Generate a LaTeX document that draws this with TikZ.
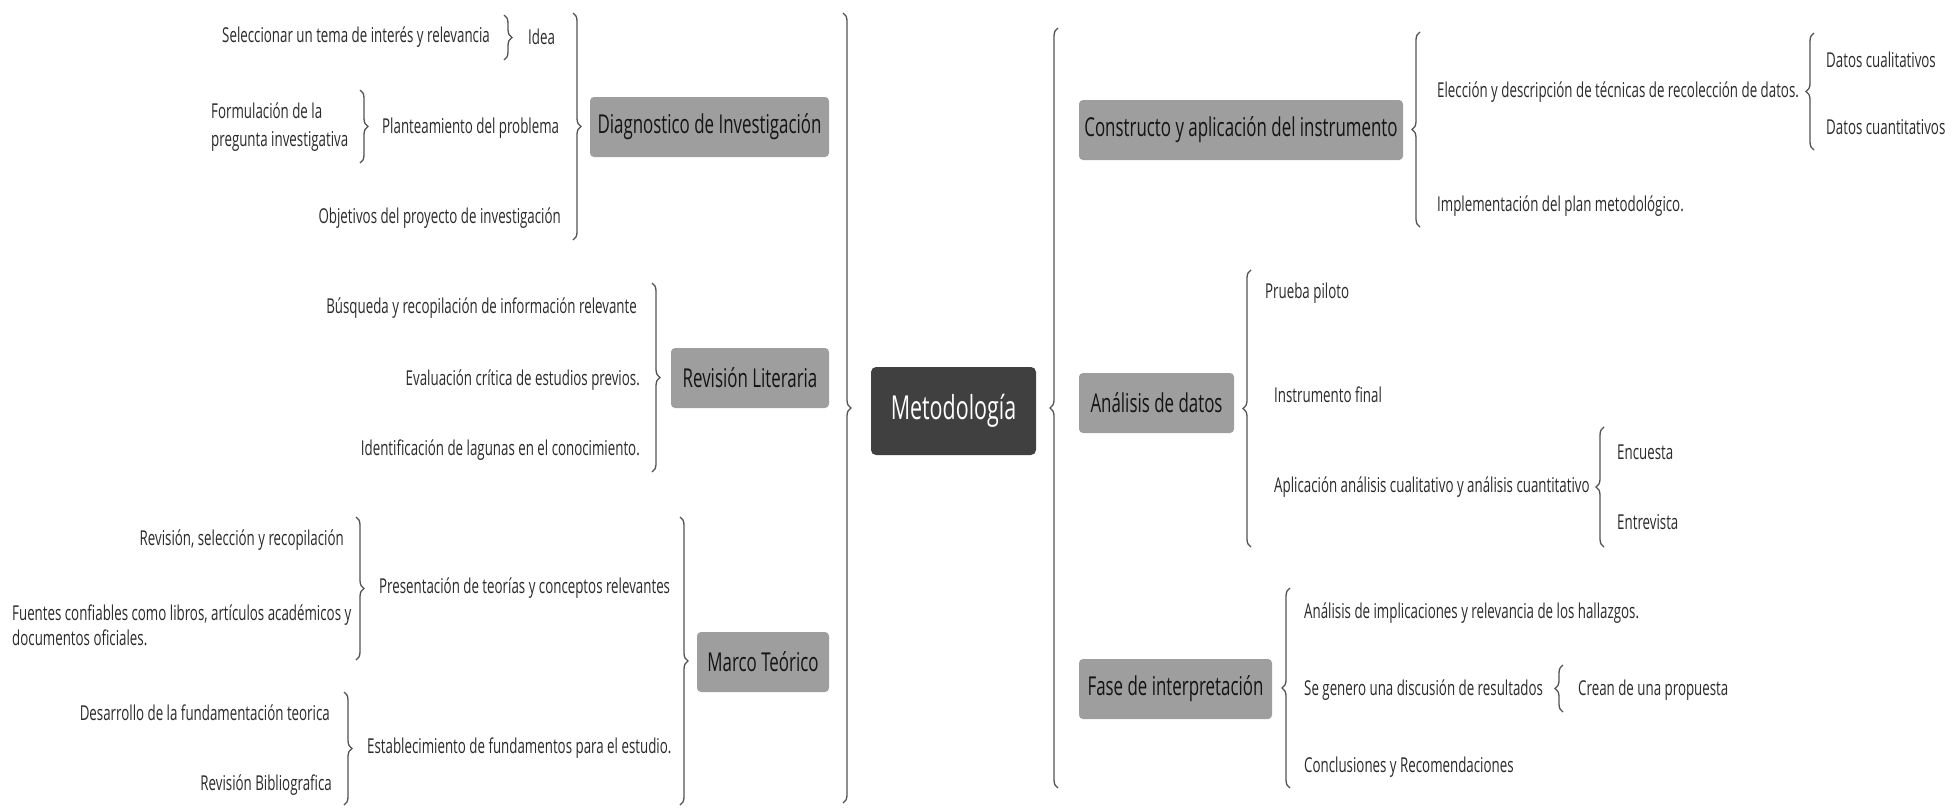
\documentclass[tikz,border=0pt]{standalone}
\usepackage{fontspec}
\setmainfont{Open Sans}[FakeStretch=0.65]
\usetikzlibrary{decorations.pathreplacing}
\definecolor{boxgray}{RGB}{158,158,158}
\definecolor{rootgray}{RGB}{64,64,64}
\definecolor{inkgray}{RGB}{42,42,42}
\tikzset{
	leaf/.style={inner sep=0pt, text=inkgray, font=\fontsize{20.5}{28}\selectfont},
	branch/.style={fill=boxgray, rounded corners=4pt, inner sep=0pt, text=black!92, minimum height=60pt, font=\fontsize{26}{28}\selectfont},
	rootbox/.style={fill=rootgray, rounded corners=5pt, inner sep=0pt, text=white, minimum height=88pt, minimum width=165pt, font=\fontsize{33}{36}\selectfont},
	brace/.style={decorate, decoration={brace, amplitude=8pt}, draw=black!68, line width=1.3pt}
}

\begin{document}
\begin{tikzpicture}[x=1pt,y=-1pt]
			%%%%% START %%%%%
			\useasboundingbox (0,0) rectangle (1952,807);
			
			\node[rootbox] (metodo) at (953.5,411) {Metodología};
			
			% left side
			\node[branch, minimum width=239pt] (diag) at (709.5,127) {Diagnostico de Investigación};
			\node[branch, minimum width=158pt] (revlit) at (750,378) {Revisión Literaria};
			\node[branch, minimum width=132pt] (marco) at (763,662) {Marco Teórico};
			
			\node[leaf, anchor=east] (selec) at (490,37) {Seleccionar un tema de interés y relevancia};
			\node[leaf, anchor=west] (idea) at (528,37) {Idea};
			\node[leaf, anchor=west, align=left] (formul) at (211,127) {Formulación de la\\pregunta investigativa};
			\node[leaf, anchor=west] (plantea) at (382,128) {Planteamiento del problema};
			\node[leaf, anchor=east] (objet) at (561,218) {Objetivos del proyecto de investigación};
			
			\node[leaf, anchor=east] (busq) at (637,308) {Búsqueda y recopilación de información relevante};
			\node[leaf, anchor=east] (evalua) at (640,380) {Evaluación crítica de estudios previos.};
			\node[leaf, anchor=east] (identif) at (640,450) {Identificación de lagunas en el conocimiento.};
			
			\node[leaf, anchor=east] (revsel) at (344,540) {Revisión, selección y recopilación};
			\node[leaf, anchor=west, align=left, font=\fontsize{20.5}{25}\selectfont] (fuentes) at (12,625) {Fuentes confiables como libros, artículos académicos y\\ documentos oficiales.};
			\node[leaf, anchor=west] (present) at (379,588) {Presentación de teorías y conceptos relevantes};
			\node[leaf, anchor=east] (desarr) at (330,713) {Desarrollo de la fundamentación teorica};
			\node[leaf, anchor=east] (revbib) at (332,785) {Revisión Bibliografica};
			\node[leaf, anchor=west] (establ) at (367,748) {Establecimiento de fundamentos para el estudio.};
			
			% right side
			\node[branch, minimum width=324pt] (constr) at (1241,130) {Constructo y aplicación del instrumento};
			\node[branch, minimum width=155pt] (analis) at (1156.5,403) {Análisis de datos};
			\node[branch, minimum width=193pt] (fase) at (1175.5,689) {Fase de interpretación};
			
			\node[leaf, anchor=west] (elecc) at (1437,92) {Elección y descripción de técnicas de recolección de datos.};
			\node[leaf, anchor=west] (cuali) at (1826,60) {Datos cualitativos};
			\node[leaf, anchor=west] (cuanti) at (1826,127) {Datos cuantitativos};
			\node[leaf, anchor=west] (implem) at (1437,206) {Implementación del plan metodológico.};
			
			\node[leaf, anchor=west] (piloto) at (1265,293) {Prueba piloto};
			\node[leaf, anchor=west] (final) at (1274,395) {Instrumento final};
			\node[leaf, anchor=west] (aplic) at (1274,487) {Aplicación análisis cualitativo y análisis cuantitativo};
			\node[leaf, anchor=west] (encuesta) at (1617,452) {Encuesta};
			\node[leaf, anchor=west] (entrev) at (1617,522) {Entrevista};
			
			\node[leaf, anchor=west] (implic) at (1304,613) {Análisis de implicaciones y relevancia de los hallazgos.};
			\node[leaf, anchor=west] (discus) at (1304,690) {Se genero una discusión de resultados};
			\node[leaf, anchor=west] (propue) at (1578,690) {Crean de una propuesta};
			\node[leaf, anchor=west] (conclu) at (1304,767) {Conclusiones y Recomendaciones};
			
			% braces opening to the right
			\draw[brace] (504,15) -- (504,60);
			\draw[brace] (360,90) -- (360,163);
			\draw[brace] (573,13) -- (573,240);
			\draw[brace] (652,283) -- (652,472);
			\draw[brace] (356,517) -- (356,660);
			\draw[brace] (344,692) -- (344,805);
			\draw[brace] (680,517) -- (680,805);
			\draw[brace] (843,13) -- (843,803);
			
			% braces opening to the left
			\draw[brace] (1058,788) -- (1058,28);
			\draw[brace] (1420,227) -- (1420,32);
			\draw[brace] (1814,150) -- (1814,33);
			\draw[brace] (1251,547) -- (1251,270);
			\draw[brace] (1604,547) -- (1604,427);
			\draw[brace] (1290,788) -- (1290,588);
			\draw[brace] (1563,712) -- (1563,665);
			
			%%%%% END %%%%%
\end{tikzpicture}
\end{document}
